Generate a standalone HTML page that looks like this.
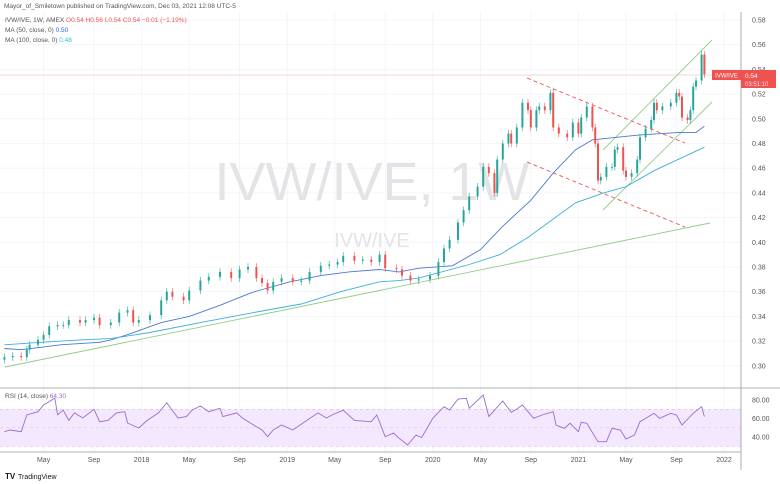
<!DOCTYPE html>
<html><head><meta charset="utf-8">
<style>
html,body{margin:0;padding:0;background:#fff;width:780px;height:484px;overflow:hidden;font-family:"Liberation Sans",sans-serif;}
svg{display:block}
text{font-family:"Liberation Sans",sans-serif;}
</style></head>
<body>
<svg id="chart" width="780" height="484" viewBox="0 0 780 484" xmlns="http://www.w3.org/2000/svg">
  <text x="4" y="8" font-size="6.5" fill="#555">Mayor_of_Smiletown published on TradingView.com, Dec 03, 2021 12:08 UTC-5</text>
  <g id="grid"></g>
  <g>
    <text x="372" y="200" font-size="54" fill="#e4e4e7" text-anchor="middle">IVW/IVE, 1W</text>
    <text x="372" y="247" font-size="20" fill="#e4e4e7" text-anchor="middle">IVW/IVE</text>
  </g>
  <rect x="0" y="409.25" width="741" height="37" fill="#f3e8fd"/>
  <line x1="0" y1="409.25" x2="741" y2="409.25" stroke="#c9b3e0" stroke-width="0.6" stroke-dasharray="3,3"/>
  <line x1="0" y1="427.75" x2="741" y2="427.75" stroke="#d9c8ea" stroke-width="0.5" stroke-dasharray="3,3"/>
  <line x1="0" y1="446.25" x2="741" y2="446.25" stroke="#c9b3e0" stroke-width="0.6" stroke-dasharray="3,3"/>
  <line x1="0" y1="75" x2="741" y2="75" stroke="#f2a9a8" stroke-width="0.6"/>
  <g>
    <line x1="5" y1="367" x2="710" y2="223" stroke="#8fce86" stroke-width="0.9"/>
    <line x1="603" y1="150" x2="712" y2="40" stroke="#8fce86" stroke-width="0.9"/>
    <line x1="603" y1="210" x2="712" y2="102" stroke="#8fce86" stroke-width="0.9"/>
    <line x1="527" y1="78" x2="685" y2="143" stroke="#ef5350" stroke-width="0.9" stroke-dasharray="4,3"/>
    <line x1="527" y1="162" x2="685" y2="227" stroke="#ef5350" stroke-width="0.9" stroke-dasharray="4,3"/>
  </g>
  <g id="mas"></g>
  <g id="candles"></g>
  <g id="rsi"></g>
  <line x1="0" y1="388" x2="780" y2="388" stroke="#9598a1" stroke-width="0.8"/>
  <line x1="0" y1="452" x2="741" y2="452" stroke="#9598a1" stroke-width="0.8"/>
  <line x1="741" y1="12" x2="741" y2="470" stroke="#9598a1" stroke-width="0.8"/>
  <g id="yaxis"></g>
  <g id="xaxis"></g>
  <g font-size="6.5">
    <text x="5" y="22" fill="#555">IVW/IVE, 1W, AMEX <tspan fill="#ef5350">O0.54 H0.56 L0.54 C0.54 −0.01 (−1.19%)</tspan></text>
    <text x="5" y="32" fill="#555">MA (50, close, 0) <tspan fill="#2962ff">0.50</tspan></text>
    <text x="5" y="42" fill="#555">MA (100, close, 0) <tspan fill="#26c6da">0.48</tspan></text>
    <text x="5" y="398" fill="#555">RSI (14, close) <tspan fill="#9c6ccf">64.30</tspan></text>
  </g>
  <g>
    <rect x="712" y="70" width="29" height="10" fill="#ef5350"/>
    <text x="726.5" y="77.5" font-size="6" fill="#fff" text-anchor="middle">IVW/IVE</text>
    <rect x="741" y="70" width="35" height="18" fill="#ef5350"/>
    <text x="745" y="78" font-size="6.5" fill="#fff">0.54</text>
    <text x="745" y="86" font-size="6" fill="#fde">03:51:10</text>
  </g>
  <g>
    <text x="5" y="479" font-size="8" font-weight="bold" fill="#131722">TV</text>
    <text x="18" y="479" font-size="7" fill="#131722">TradingView</text>
  </g>
</svg>
<script>
const weeks=[3,6,9,11,12,15,17,19,22,24,26,30,32,35,37,41,44,47,49,51,55,59,61,63,67,69,73,76,80,84,87,90,93,95,97,99,102,106,109,112,116,119,122,124,128,131,134,137,139,143,145,148,151,155,158,160,162,165,167,169,172,174,176,178,179,181,183,184,186,188,190,191,193,194,196,198,199,201,204,206,208,209,211,213,214,215,216,218,220,221,222,224,225,227,229,230,232,234,235,236,238,241,243,244,245,247,248,249,250,252,253];
const closes=[0.307,0.308,0.307,0.313,0.317,0.321,0.325,0.332,0.333,0.333,0.337,0.335,0.337,0.339,0.333,0.335,0.343,0.345,0.335,0.337,0.341,0.353,0.360,0.356,0.353,0.361,0.369,0.372,0.376,0.371,0.378,0.380,0.371,0.367,0.361,0.368,0.371,0.368,0.369,0.376,0.381,0.382,0.384,0.389,0.385,0.386,0.384,0.390,0.379,0.378,0.373,0.369,0.370,0.373,0.384,0.395,0.402,0.416,0.426,0.437,0.445,0.461,0.456,0.440,0.467,0.480,0.488,0.480,0.493,0.513,0.507,0.493,0.507,0.510,0.507,0.521,0.493,0.488,0.485,0.497,0.488,0.501,0.510,0.493,0.480,0.450,0.453,0.461,0.461,0.475,0.477,0.458,0.453,0.456,0.467,0.485,0.492,0.499,0.513,0.507,0.510,0.513,0.521,0.518,0.501,0.499,0.507,0.526,0.531,0.552,0.536];
const ma50Weeks=[3,9,16,23,30,37,41,48,59,69,80,91,97,105,116,126,137,144,151,163,173,181,191,199,207,213,230,244,250,253];
const ma50Values=[0.314,0.313,0.315,0.317,0.318,0.319,0.321,0.326,0.335,0.340,0.349,0.359,0.363,0.368,0.373,0.376,0.378,0.376,0.379,0.381,0.394,0.413,0.434,0.456,0.475,0.483,0.487,0.489,0.489,0.494];
const ma100Weeks=[3,16,30,41,55,73,94,109,123,137,144,151,169,180,190,207,217,225,235,253];
const ma100Values=[0.317,0.319,0.321,0.322,0.327,0.335,0.344,0.350,0.360,0.368,0.369,0.371,0.382,0.390,0.404,0.432,0.440,0.445,0.458,0.477];
const rsiWeeks=[3,5,9,11,15,17,21,22,24,26,28,31,35,37,40,43,46,47,51,54,58,61,65,68,70,73,76,80,81,86,88,92,95,97,99,102,106,111,115,118,120,124,128,134,136,139,142,144,147,150,152,156,160,162,165,168,169,174,176,181,184,186,188,192,195,199,200,203,205,208,209,211,215,218,220,223,225,228,230,235,237,241,243,245,249,252,253];
const rsiValues=[45.7,47.6,45.7,63.8,67.4,74.6,82,64,69,58,66,60.5,70,56.5,58,66,67.4,55,49.7,58,66,77,60.5,62,69,73.5,67.4,71,62,66,60.5,53,47.6,40.3,47.6,53,47.6,58,66,60.5,63.8,69,58,56.5,63.8,40.3,44.3,38.6,31.4,42.2,39.3,60.2,72.8,69.2,81,81.8,71,85.4,62,78.9,66.7,70.3,74.6,60.2,63.8,67.4,53,49.4,54.8,45.7,55.9,54.8,34.9,34.9,49.4,47.6,37.8,42.2,56.5,65.6,60.2,65.6,63.8,53,65.6,72.8,62];
const priceTicks=[0.30,0.32,0.34,0.36,0.38,0.40,0.42,0.44,0.46,0.48,0.50,0.52,0.54,0.56,0.58];
const rsiTicks=[80,60,40];
const timeTickWeeks=[17,35,52,69,87,104,121,139,156,173,191,208,225,243,260];
const timeTickLabels=["May","Sep","2018","May","Sep","2019","May","Sep","2020","May","Sep","2021","May","Sep","2022"];

const NS="http://www.w3.org/2000/svg";
const xOf=w=>-4+w*2.8;
const yOf=v=>20+(0.58-v)/0.02*24.7;
const ryOf=v=>400+(80-v)*0.925;
function mk(tag,attrs,parent){const e=document.createElementNS(NS,tag);for(const k in attrs)e.setAttribute(k,attrs[k]);parent.appendChild(e);return e;}

const grid=document.getElementById('grid');
priceTicks.forEach(t=>{const l=mk('line',{x1:0,x2:741,y1:yOf(t),y2:yOf(t),stroke:'#f0f3fa','stroke-width':0.8},grid);

});
timeTickWeeks.forEach(w=>{const l=mk('line',{x1:xOf(w),x2:xOf(w),y1:12,y2:452,stroke:'#f0f3fa','stroke-width':0.8},grid);

});

const ya=document.getElementById('yaxis');
priceTicks.forEach(t=>{const e=mk('text',{x:752,y:yOf(t)+2.5,'font-size':7,fill:'#555'},ya);e.textContent=t.toFixed(2);

});
rsiTicks.forEach(t=>{const e=mk('text',{x:752,y:ryOf(t)+2.5,'font-size':7,fill:'#555'},ya);e.textContent=t.toFixed(2);

});
const xa=document.getElementById('xaxis');
timeTickWeeks.forEach((w,i)=>{const e=mk('text',{x:xOf(w),y:462,'font-size':7,fill:'#555','text-anchor':'middle'},xa);e.textContent=timeTickLabels[i];

});

const mas=document.getElementById('mas');
function line(ws,vs,yf,color,name,parent){const d=ws.map((w,i)=>(i?'L':'M')+xOf(w).toFixed(1)+','+yf(vs[i]).toFixed(1)).join('');
const p=mk('path',{d:d,fill:'none',stroke:color,'stroke-width':0.9},parent);

}
line(ma50Weeks,ma50Values,yOf,'#4a78d4','ma50-line',mas);
line(ma100Weeks,ma100Values,yOf,'#3bb0d8','ma100-line',mas);

const cg=document.getElementById('candles');
closes.forEach((c,i)=>{const o=i?closes[i-1]:c-0.002;const up=c>=o;const col=up?'#26a69a':'#ef5350';const x=xOf(weeks[i]);
const hi=Math.max(o,c)+0.003,lo=Math.min(o,c)-0.003;
const w=mk('line',{x1:x,x2:x,y1:yOf(hi),y2:yOf(lo),stroke:col,'stroke-width':0.6},cg);


const top=yOf(Math.max(o,c)),bot=yOf(Math.min(o,c));
const r=mk('rect',{x:x-1,y:top,width:2,height:Math.max(0.8,bot-top),fill:col},cg);

});

line(rsiWeeks,rsiValues,ryOf,'#9c6ccf','rsi-line',document.getElementById('rsi'));
</script>
</body></html>
